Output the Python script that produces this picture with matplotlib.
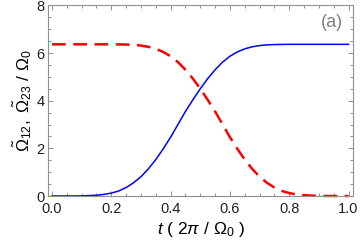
import numpy as np
from matplotlib import pyplot as plt
from matplotlib.ticker import MultipleLocator

# Rabi frequencies, t in units of 2pi/Omega0
t = [0.000, 0.025, 0.050, 0.075, 0.100, 0.125, 0.150, 0.175, 0.200, 0.225,
     0.250, 0.275, 0.300, 0.325, 0.350, 0.375, 0.400, 0.425, 0.450, 0.475,
     0.500, 0.525, 0.550, 0.575, 0.600, 0.625, 0.650, 0.675, 0.700, 0.725,
     0.750, 0.775, 0.800, 0.825, 0.850, 0.875, 0.900, 0.925, 0.950, 0.975,
     1.000]
omega12 = [0.000, 0.000, 0.000, 0.002, 0.007, 0.017, 0.033, 0.067, 0.122, 0.211,
           0.355, 0.555, 0.809, 1.140, 1.530, 1.980, 2.470, 3.010, 3.550, 4.040,
           4.504, 4.930, 5.300, 5.620, 5.870, 6.050, 6.180, 6.265, 6.318, 6.346,
           6.360, 6.366, 6.369, 6.370, 6.370, 6.370, 6.370, 6.370, 6.370, 6.370,
           6.370]
omega23 = [6.370, 6.370, 6.370, 6.370, 6.370, 6.370, 6.370, 6.370, 6.369, 6.366,
           6.360, 6.346, 6.318, 6.265, 6.180, 6.050, 5.870, 5.620, 5.300, 4.930,
           4.504, 4.040, 3.550, 3.010, 2.470, 1.980, 1.530, 1.140, 0.809, 0.555,
           0.355, 0.211, 0.122, 0.067, 0.033, 0.017, 0.007, 0.002, 0.000, 0.000,
           0.000]

plt.rcParams['font.family'] = ['Liberation Sans', 'DejaVu Sans']
plt.rcParams['mathtext.fontset'] = 'custom'
plt.rcParams['mathtext.rm'] = 'Liberation Sans'
plt.rcParams['mathtext.it'] = 'Liberation Sans:italic'
plt.rcParams['mathtext.bf'] = 'Liberation Sans:bold'

fig = plt.figure(figsize=(3.6, 2.47), dpi=100)
ax = fig.add_axes([48/360, 1 - 196/247, 305/360, 190.5/247])

ax.plot(t, omega23, color="#ff0000", lw=1.8, dashes=(5.5, 3.0), clip_on=False)
ax.plot(t, omega12, color="#0000ff", lw=1.1, clip_on=False)

ax.set_xlim(-0.0135, 1.015)
ax.set_ylim(0, 8)
ax.xaxis.set_major_locator(MultipleLocator(0.2))
ax.xaxis.set_minor_locator(MultipleLocator(0.05))
ax.yaxis.set_major_locator(MultipleLocator(2))
ax.yaxis.set_minor_locator(MultipleLocator(0.5))
ax.xaxis.set_major_formatter(lambda v, p: "%.1f" % v)

for s in ax.spines.values():
    s.set_color("#909090")
    s.set_linewidth(0.8)
ax.tick_params(which="both", direction="in", top=True, right=True,
               color="#909090", width=0.7, labelsize=10.5, labelcolor="#222222")
ax.tick_params(which="major", length=3.6)
ax.tick_params(axis="x", which="major", pad=4)
ax.tick_params(axis="y", which="major", pad=2.5)
ax.tick_params(which="minor", length=2.2)

ax.set_xlabel(r"$t$ ( 2$\pi$ / $\Omega_0$ )", fontsize=12.5, labelpad=3)
ax.set_ylabel(r"$\tilde{\Omega}_{12},\ \tilde{\Omega}_{23}\ /\ \Omega_0$", fontsize=12.5, labelpad=2)
ax.text(0.93, 0.91, "(a)", transform=ax.transAxes, ha="center", va="center",
        fontsize=13, color="#808080")

plt.savefig("out.png", dpi=100)
